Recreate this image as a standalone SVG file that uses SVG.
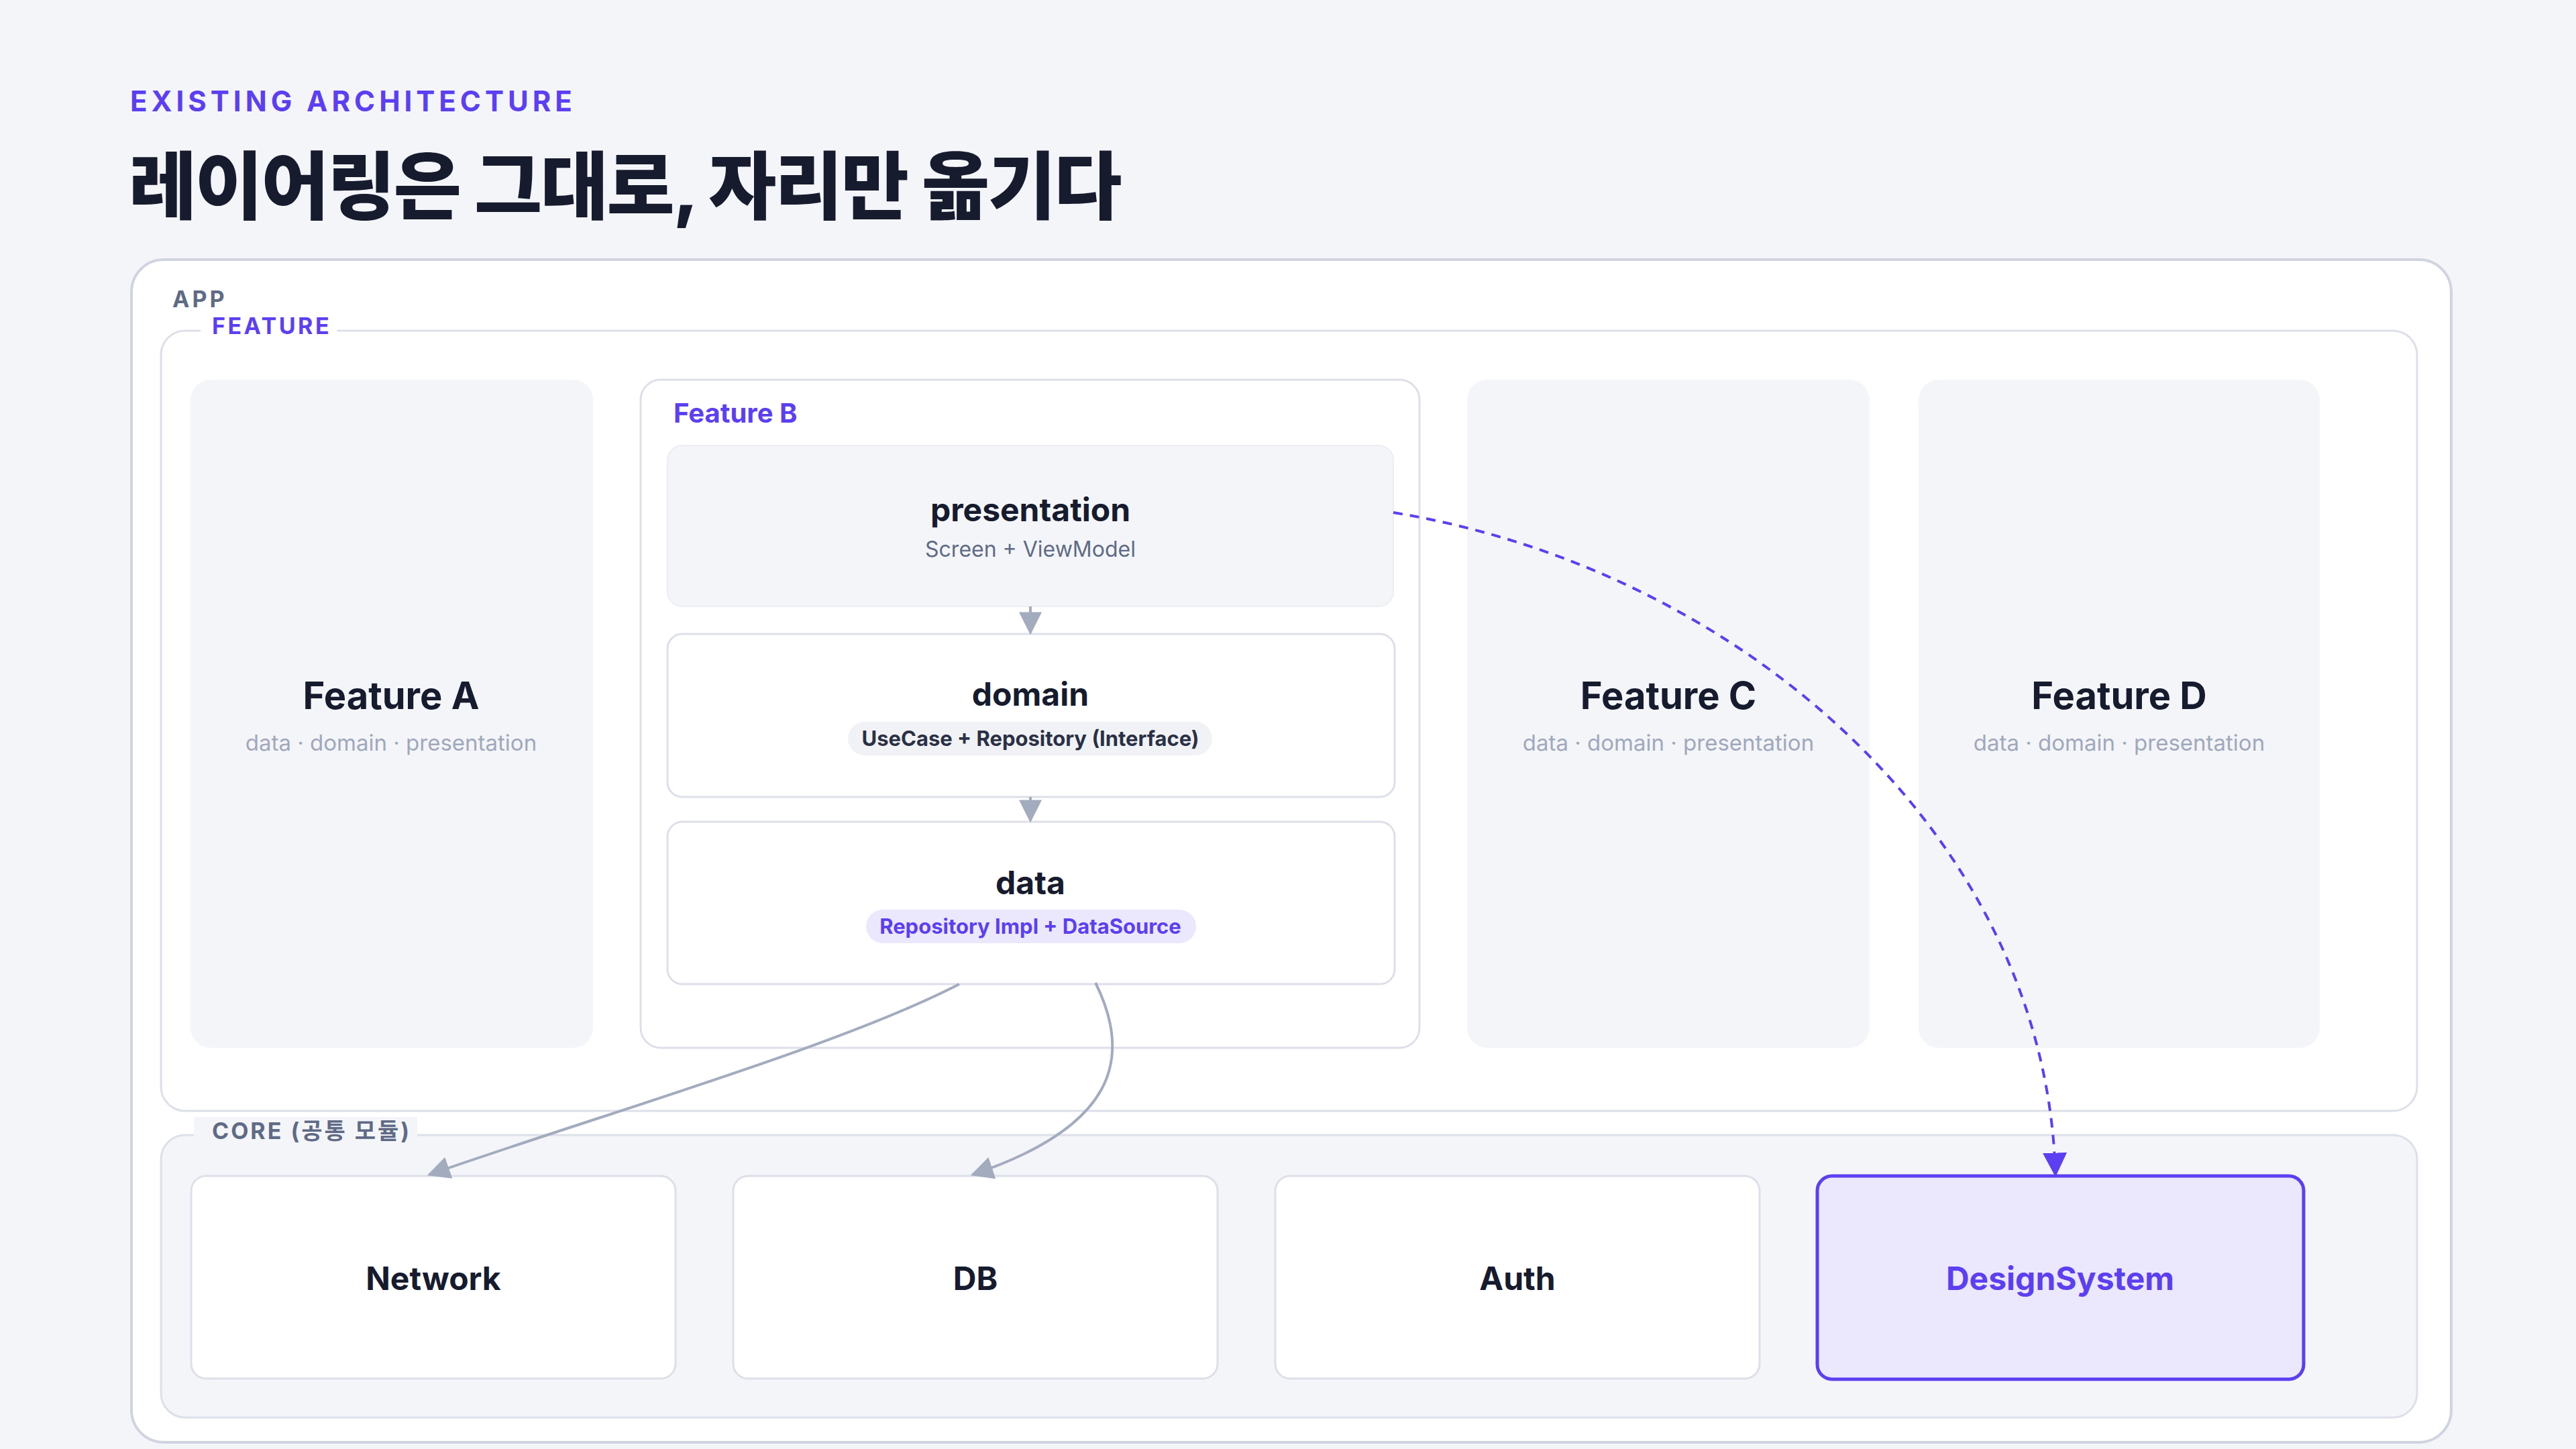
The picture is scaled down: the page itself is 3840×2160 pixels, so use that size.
<svg xmlns="http://www.w3.org/2000/svg" width="3840" height="2160" viewBox="0 0 3840 2160">
<defs>
<style>
text{font-family:Inter,"Noto Sans","Noto Sans CJK KR",sans-serif}
.t{fill:#161b2e;font-weight:700;text-anchor:middle}
.s{fill:#a0a8bb;font-size:33px;text-anchor:middle}
.lab{font-weight:700;letter-spacing:4px}
.gbox{fill:#f4f5f9}
.wbox{fill:#fff;stroke:#dde0e9;stroke-width:3}
.con{fill:none;stroke:#a3abbf;stroke-width:4}
</style>
<marker id="ga" viewBox="0 0 10 10" refX="9" refY="5" markerWidth="34" markerHeight="34" markerUnits="userSpaceOnUse" orient="auto"><path d="M0,0L10,5L0,10z" fill="#a3abbf"/></marker>
<marker id="pa" viewBox="0 0 10 10" refX="9" refY="5" markerWidth="36" markerHeight="36" markerUnits="userSpaceOnUse" orient="auto"><path d="M0,0L10,5L0,10z" fill="#5b3ff0"/></marker>
</defs>
<rect width="3840" height="2160" fill="#f4f5f9"/>
<text x="194" y="166" font-size="42" fill="#5b3ff0" class="lab" style="letter-spacing:6px">EXISTING ARCHITECTURE</text>
<text x="192" y="318" font-size="110" font-weight="800" fill="#161b2e" style="letter-spacing:-2.5px">레이어링은 그대로, 자리만 옮기다</text>

<g id="app">
<rect x="196" y="387" width="3458" height="1763" rx="48" fill="#fff" stroke="#d0d4e0" stroke-width="4"/>
<text x="257" y="458" font-size="34" fill="#5f6b85" class="lab">APP</text>
</g>
<g id="feature">
<rect x="240" y="493" width="3363" height="1163" rx="36" fill="#fff" stroke="#dde0e9" stroke-width="3"/>
<rect x="299" y="470" width="203" height="46" fill="#fff"/>
<text x="316" y="498" font-size="34" fill="#5b3ff0" class="lab" style="letter-spacing:3.5px">FEATURE</text>
</g>
<g id="featureA">
<rect x="284" y="566" width="600" height="996" rx="30" class="gbox"/>
<text x="583" y="1057" font-size="56" class="t">Feature A</text>
<text x="583" y="1119" class="s">data · domain · presentation</text>
</g>
<g id="featureB">
<rect x="955" y="566" width="1161" height="996" rx="30" class="wbox"/>
<text x="1004" y="630" font-size="40" font-weight="700" fill="#5b3ff0">Feature B</text>
</g>
<g id="presentation">
<rect x="995" y="664" width="1082" height="240" rx="22" class="gbox" stroke="#eceef4" stroke-width="2"/>
<text x="1536" y="777" font-size="48" class="t">presentation</text>
<text x="1536" y="830" font-size="32" fill="#5f6b85" text-anchor="middle">Screen + ViewModel</text>
</g>
<g id="domain">
<rect x="995" y="945" width="1084" height="243" rx="22" class="wbox"/>
<text x="1536" y="1052" font-size="48" class="t">domain</text>
<rect x="1264" y="1076" width="543" height="50" rx="25" fill="#f1f2f6"/>
<text x="1536" y="1112" font-size="31" font-weight="700" fill="#2a3145" text-anchor="middle">UseCase + Repository (Interface)</text>
</g>
<g id="data">
<rect x="995" y="1225" width="1084" height="242" rx="22" class="wbox"/>
<text x="1536" y="1333" font-size="48" class="t">data</text>
<rect x="1291" y="1356" width="492" height="50" rx="25" fill="#ebe8fd"/>
<text x="1536" y="1392" font-size="31" font-weight="700" fill="#5b3ff0" text-anchor="middle">Repository Impl + DataSource</text>
</g>
<g id="featureC">
<rect x="2187" y="566" width="600" height="996" rx="30" class="gbox"/>
<text x="2487" y="1057" font-size="56" class="t">Feature C</text>
<text x="2487" y="1119" class="s">data · domain · presentation</text>
</g>
<g id="featureD">
<rect x="2860" y="566" width="598" height="996" rx="30" class="gbox"/>
<text x="3159" y="1057" font-size="56" class="t">Feature D</text>
<text x="3159" y="1119" class="s">data · domain · presentation</text>
</g>
<g id="core">
<rect x="240" y="1692" width="3363" height="421" rx="36" class="gbox" stroke="#dde0e9" stroke-width="3"/>
<rect x="289" y="1665" width="333" height="46" fill="#f4f5f9"/>
<text x="316" y="1698" font-size="34" fill="#5f6b85" class="lab" style="letter-spacing:3px">CORE (공통 모듈)</text>
</g>
<g id="network"><rect x="285" y="1753" width="722" height="302" rx="22" class="wbox"/><text x="646" y="1923" font-size="48" class="t">Network</text></g>
<g id="db"><rect x="1093" y="1753" width="722" height="302" rx="22" class="wbox"/><text x="1454" y="1923" font-size="48" class="t">DB</text></g>
<g id="auth"><rect x="1901" y="1753" width="722" height="302" rx="22" class="wbox"/><text x="2262" y="1923" font-size="48" class="t">Auth</text></g>
<g id="designsystem"><rect x="2709" y="1753" width="725" height="303" rx="22" fill="#ebe8fd" stroke="#5b3ff0" stroke-width="5"/><text x="3071" y="1923" font-size="48" class="t" style="fill:#5b3ff0">DesignSystem</text></g>

<g id="connectors">
<path d="M1536,904L1536,943" class="con" marker-end="url(#ga)"/>
<path d="M1536,1188L1536,1223" class="con" marker-end="url(#ga)"/>
<path d="M1430,1467C1250,1560 900,1660 640,1751" class="con" marker-end="url(#ga)"/>
<path d="M1633,1465C1690,1580 1660,1680 1450,1751" class="con" marker-end="url(#ga)"/>
<path d="M2077,764C2600,850 3050,1250 3064,1751" fill="none" stroke="#5b3ff0" stroke-width="4" stroke-dasharray="14 11" marker-end="url(#pa)"/>
</g>
</svg>
